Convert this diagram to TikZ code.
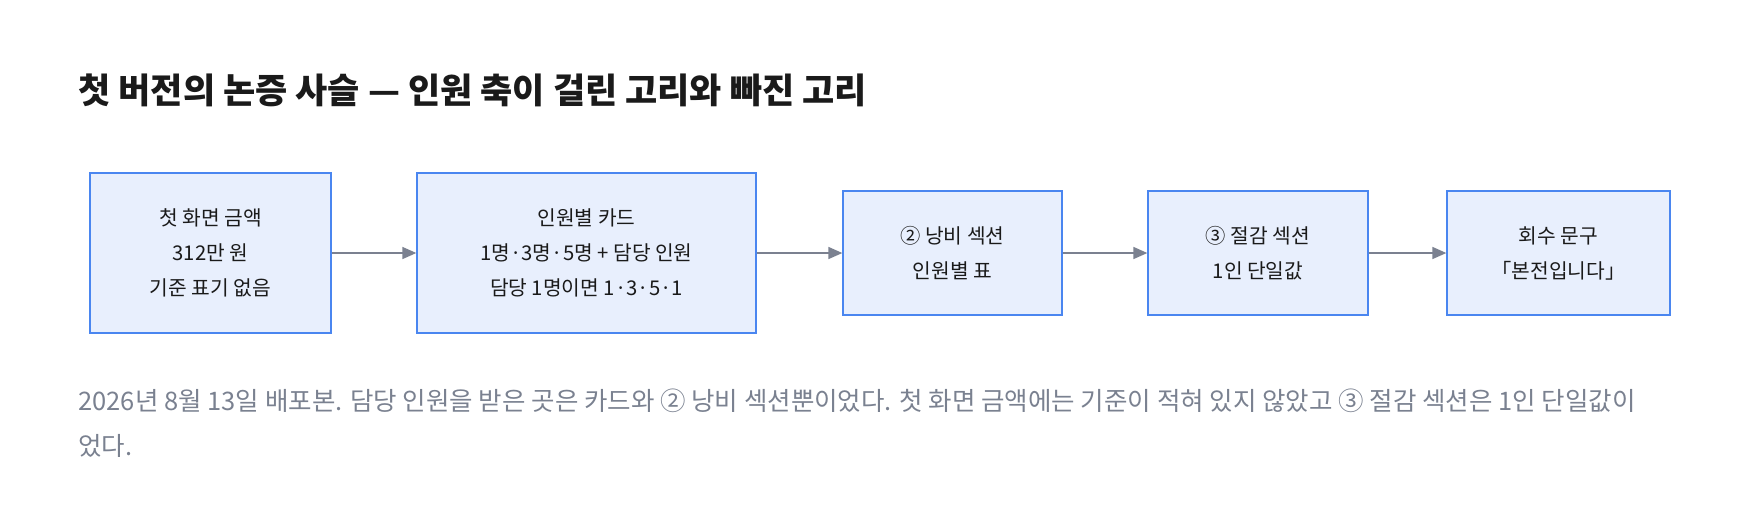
\documentclass[tikz,border=0pt]{standalone}
\usepackage{fontspec}
\setmainfont{Noto Sans CJK KR}
\usetikzlibrary{arrows.meta}
\definecolor{bfill}{HTML}{E8EFFD}
\definecolor{bdraw}{HTML}{4A86F0}
\definecolor{arr}{HTML}{7B8190}
\definecolor{cap}{HTML}{7A8190}
\definecolor{ttl}{HTML}{1A1A1A}
\begin{document}
\begin{tikzpicture}[x=1pt,y=-1pt,
  box/.style={draw=bdraw,line width=1.3pt,fill=bfill,align=center,font=\fontsize{20.3}{35}\selectfont,text=ttl},
  conn/.style={draw=arr,line width=1.5pt,-{Triangle[length=14pt,width=12pt]}}]
\useasboundingbox (0,0) rectangle (1760,530);
\node[anchor=west,font=\fontsize{35}{40}\selectfont\bfseries,text=ttl] (title) at (75,90) {첫 버전의 논증 사슬 — 인원 축이 걸린 고리와 빠진 고리};
\node[box,minimum width=241pt,minimum height=160pt] (b1) at (210.5,253) {첫 화면 금액\\312만 원\\기준 표기 없음};
\node[box,minimum width=339pt,minimum height=160pt] (b2) at (586.5,253) {인원별 카드\\1명·3명·5명 + 담당 인원\\담당 1명이면 1·3·5·1};
\node[box,minimum width=219pt,minimum height=124pt] (b3) at (952.5,253) {② 낭비 섹션\\인원별 표};
\node[box,minimum width=220pt,minimum height=124pt] (b4) at (1258,253) {③ 절감 섹션\\1인 단일값};
\node[box,minimum width=223pt,minimum height=124pt] (b5) at (1558.5,253) {회수 문구\\「본전입니다」};
\draw[conn] (b1.east) -- (b2.west);
\draw[conn] (b2.east) -- (b3.west);
\draw[conn] (b3.east) -- (b4.west);
\draw[conn] (b4.east) -- (b5.west);
\node[anchor=north west,align=left,text=cap,font=\fontsize{25.5}{45}\selectfont] (caption) at (75,385) {2026년 8월 13일 배포본. 담당 인원을 받은 곳은 카드와 ② 낭비 섹션뿐이었다. 첫 화면 금액에는 기준이 적혀 있지 않았고 ③ 절감 섹션은 1인 단일값이\\었다.};
\end{tikzpicture}
\end{document}
